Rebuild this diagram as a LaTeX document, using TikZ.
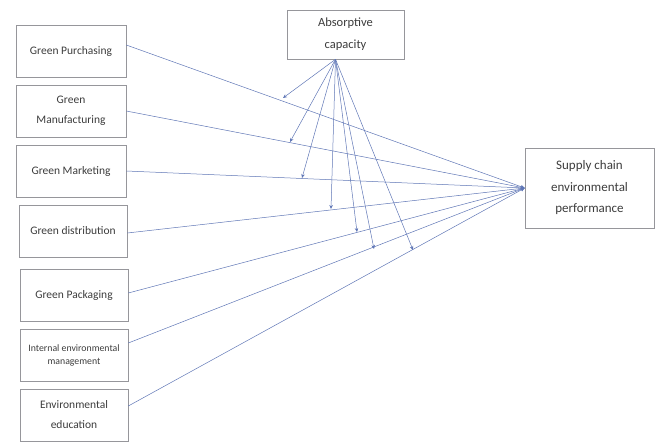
\documentclass[tikz,border=0pt]{standalone}
\usepackage{fontspec}
\setmainfont{Carlito}
\usepackage{xcolor}
\usepackage{tikz}
\usetikzlibrary{arrows.meta}

\definecolor{lnk}{RGB}{95,118,182}
\definecolor{bord}{RGB}{150,150,155}
\definecolor{txt}{RGB}{60,60,60}

\tikzset{
 box/.style={draw=bord,line width=0.6pt,align=center,text=txt,inner sep=2pt,
   minimum width=108pt,minimum height=52pt,font=\fontsize{11.5}{20}\selectfont},
 lnkline/.style={draw=lnk,line width=0.5pt,-{Stealth[length=4pt,width=3.5pt]}}
}

\begin{document}
\begin{tikzpicture}[x=1pt,y=-1pt]
\useasboundingbox (0,0) rectangle (659,442);
\node[box,minimum width=110pt](gp)at(71,51){Green Purchasing};
\node[box,minimum width=110pt](gm)at(71,111){Green\\Manufacturing};
\node[box,minimum width=110pt](gmk)at(71,171){Green Marketing};
\node[box](gd)at(73,231){Green distribution};
\node[box](gpk)at(74,295){Green Packaging};
\node[box,font=\fontsize{9.8}{13}\selectfont](iem)at(74,355){Internal environmental\\management};
\node[box](ee)at(74,415){Environmental\\education};
\node[box,minimum width=117pt,minimum height=49pt,font=\fontsize{12.5}{22}\selectfont](ac)at(345.5,34.5){Absorptive\\capacity};
\node[box,minimum width=129pt,minimum height=80pt,font=\fontsize{13}{21.5}\selectfont](sc)at(589.5,188){Supply chain\\environmental\\performance};
% moderating arrows land here
\coordinate(src)at([xshift=-10pt]ac.south);
\coordinate(m1)at(283,98);
\coordinate(m2)at(290,142);
\coordinate(m3)at(302,178);
\coordinate(m4)at(331,209);
\coordinate(m5)at(357,232);
\coordinate(m6)at(374,249);
\coordinate(m7)at(413,250);
% direct paths
\draw[lnkline]([yshift=6pt]gp.east)--(sc.west);
\draw[lnkline](gm.east)--(sc.west);
\draw[lnkline](gmk.east)--(sc.west);
\draw[lnkline]([yshift=-2pt]gd.east)--(sc.west);
\draw[lnkline]([yshift=2pt]gpk.east)--(sc.west);
\draw[lnkline]([yshift=12pt]iem.east)--(sc.west);
\draw[lnkline]([yshift=9pt]ee.east)--(sc.west);
\draw[lnkline](src)--(m1);
\draw[lnkline](src)--(m2);
\draw[lnkline](src)--(m3);
\draw[lnkline](src)--(m4);
\draw[lnkline](src)--(m5);
\draw[lnkline](src)--(m6);
\draw[lnkline](src)--(m7);
\end{tikzpicture}
\end{document}
